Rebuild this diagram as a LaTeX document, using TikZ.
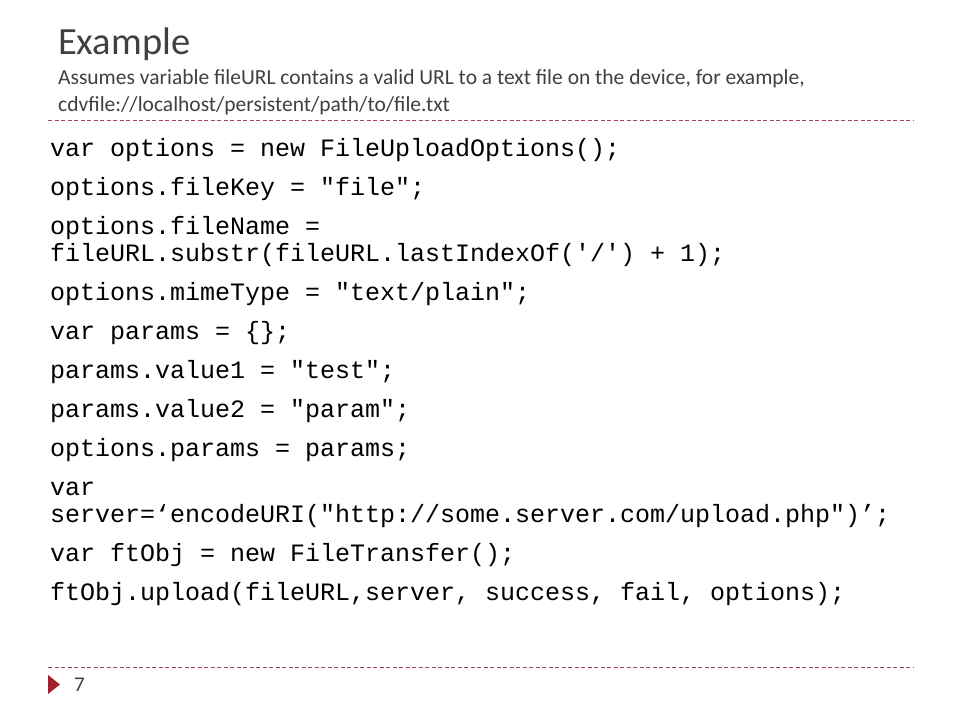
\documentclass[tikz,border=0pt]{standalone}
\usepackage{fontspec}
\setmainfont{Carlito}
\newfontfamily\codefont{Liberation Mono}
\definecolor{titlegray}{HTML}{404040}
\definecolor{dashred}{RGB}{165,70,85}
\definecolor{markred}{HTML}{A3202E}
\begin{document}
\begin{tikzpicture}[x=1pt,y=-1pt,
  titletext/.style={anchor=base west,inner sep=0pt,text=titlegray,font=\fontsize{38.5}{46}\selectfont},
  subtext/.style={anchor=base west,inner sep=0pt,text=titlegray,font=\fontsize{21.5}{26}\selectfont},
  codeline/.style={anchor=base west,inner sep=0pt,text=black,font=\codefont\fontsize{25}{30}\selectfont},
  rule/.style={draw=dashred,line width=0.8pt,dash pattern=on 4pt off 2.5pt},
  pagenum/.style={anchor=base west,inner sep=0pt,text=titlegray,font=\fontsize{21}{25}\selectfont}]
\useasboundingbox (0,0) rectangle (960,720);
\fill[white] (0,0) rectangle (960,720);
% title
\node[titletext] (title) at (58,54) {Example};
\node[subtext] (sub1) at (58,84) {Assumes variable fileURL contains a valid URL to a text file on the device, for example,};
\node[subtext] (sub2) at (58,111) {cdvfile://localhost/persistent/path/to/file.txt};
% rules
\coordinate (r1a) at (48,120);
\coordinate (r1b) at (913,120);
\coordinate (r2a) at (48,667);
\coordinate (r2b) at (913,667);
\draw[rule] (r1a) -- (r1b);
\draw[rule] (r2a) -- (r2b);
% code
\node[codeline] (c1) at (50,156) {var options = new FileUploadOptions();};
\node[codeline] (c2) at (50,195) {options.fileKey = "file";};
\node[codeline] (c3) at (50,234) {options.fileName =};
\node[codeline] (c3b) at (50,261) {fileURL.substr(fileURL.lastIndexOf('/') + 1);};
\node[codeline] (c4) at (50,300) {options.mimeType = "text/plain";};
\node[codeline] (c5) at (50,339) {var params = \{\};};
\node[codeline] (c6) at (50,378) {params.value1 = "test";};
\node[codeline] (c7) at (50,417) {params.value2 = "param";};
\node[codeline] (c8) at (50,456) {options.params = params;};
\node[codeline] (c9) at (50,495) {var};
\node[codeline] (c9b) at (50,522) {server=‘encodeURI("http://some.server.com/upload.php")’;};
\node[codeline] (c10) at (50,561) {var ftObj = new FileTransfer();};
\node[codeline] (c11) at (50,600) {ftObj.upload(fileURL,server, success, fail, options);};
% footer
\fill[markred] (48,675) -- (60,684.5) -- (48,694) -- cycle;
\node[pagenum] (pg) at (74,691) {7};
\end{tikzpicture}
\end{document}
